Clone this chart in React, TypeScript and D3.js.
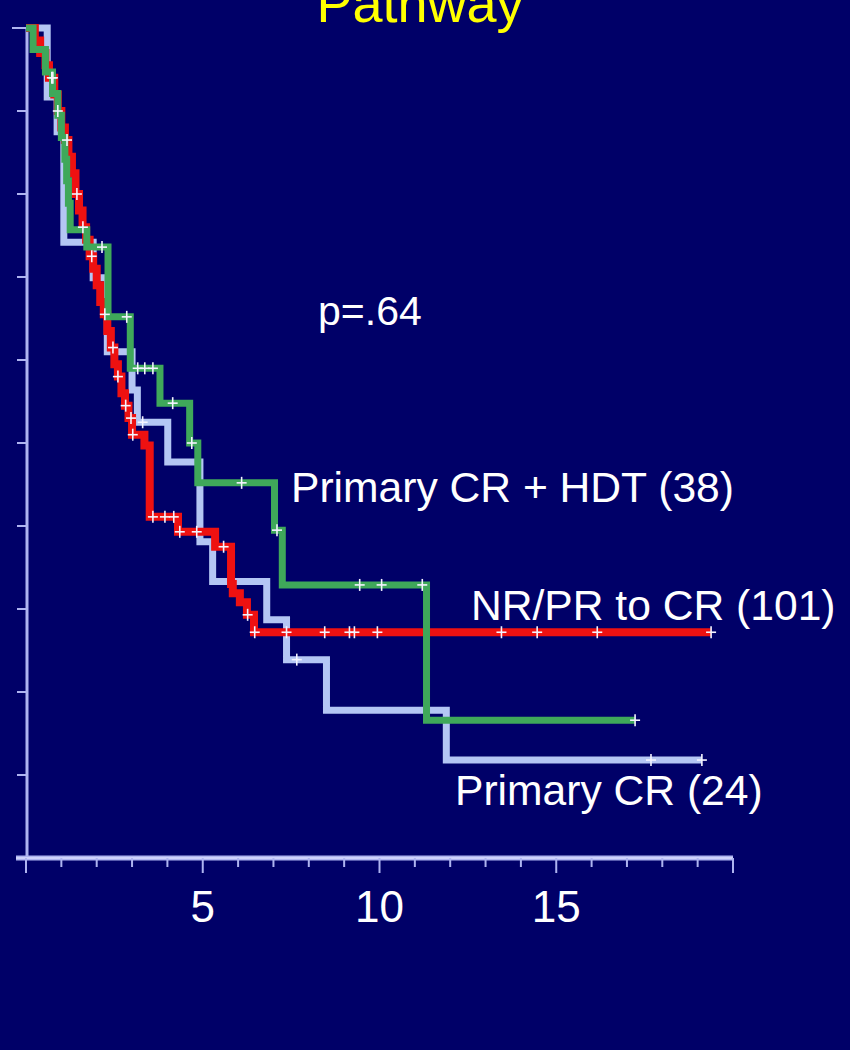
import React from "react";
import * as d3 from "d3";

const W = 850;
const H = 1050;

// Kaplan-Meier steps: [time, survival after drop]
const redEvents: [number, number][] = [
  [0.25, 0.985], [0.4, 0.97], [0.55, 0.955], [0.65, 0.94], [0.8, 0.92], [0.9, 0.9],
  [1.0, 0.88], [1.1, 0.865], [1.2, 0.845], [1.3, 0.825], [1.4, 0.8], [1.5, 0.78],
  [1.6, 0.76], [1.7, 0.745], [1.8, 0.725], [1.9, 0.71], [2.0, 0.69], [2.1, 0.67],
  [2.2, 0.655], [2.3, 0.635], [2.4, 0.615], [2.5, 0.595], [2.6, 0.58], [2.7, 0.56],
  [2.8, 0.545], [2.9, 0.53], [3.0, 0.51], [3.35, 0.497], [3.5, 0.411], [4.3, 0.393],
  [5.35, 0.375], [5.8, 0.33], [5.85, 0.319], [6.05, 0.308], [6.25, 0.293], [6.45, 0.272],
];
const redEnd = 19.38;
const redCensor = [
  0.73, 0.76, 0.9, 1.16, 1.44, 1.61, 1.86, 2.23, 2.46, 2.6, 2.82, 2.97, 3.02, 3.59, 3.93,
  4.18, 4.35, 4.83, 5.59, 6.27, 6.47, 7.37, 8.45, 9.15, 9.29, 9.94, 13.45, 14.46, 16.16, 19.38,
];

const greenEvents: [number, number][] = [
  [0.2, 0.974], [0.55, 0.947], [0.75, 0.921], [0.9, 0.895], [1.0, 0.868], [1.1, 0.842],
  [1.15, 0.816], [1.2, 0.789], [1.25, 0.757], [1.72, 0.736], [2.32, 0.652], [2.95, 0.59],
  [3.79, 0.548], [4.63, 0.5], [4.86, 0.452], [7.03, 0.395], [7.25, 0.329], [11.33, 0.166],
];
const greenEnd = 17.23;
const greenCensor = [2.15, 2.85, 3.16, 3.36, 3.59, 4.15, 4.69, 6.1, 7.1, 9.44, 10.06, 11.21, 17.23];

const blueEvents: [number, number][] = [
  [0.6, 0.917], [0.88, 0.875], [1.07, 0.742], [1.9, 0.699], [2.3, 0.61], [3.0, 0.564],
  [3.15, 0.525], [4.01, 0.477], [4.92, 0.381], [5.28, 0.333], [6.81, 0.287], [7.37, 0.239],
  [8.5, 0.178], [11.89, 0.118],
];
const blueEnd = 19.12;
const blueCensor = [3.3, 7.66, 17.68, 19.12];

const xTickLabels = [5, 10, 15];

const x = d3.scaleLinear().domain([0, 20]).range([26, 733]);
const y = d3.scaleLinear().domain([0, 1]).range([858, 28]);

function stepPoints(events: [number, number][], end: number): [number, number][] {
  const pts: [number, number][] = [[0, 1], ...events];
  pts.push([end, events[events.length - 1][1]]);
  return pts;
}
function survAt(events: [number, number][], t: number) {
  let s = 1;
  for (const [et, es] of events) if (et <= t + 1e-9) s = es;
  return s;
}

const line = d3
  .line<[number, number]>()
  .x((d) => x(d[0]))
  .y((d) => y(d[1]))
  .curve(d3.curveStepAfter);

const series = [
  { events: blueEvents, end: blueEnd, censor: blueCensor, color: "#b4c6f4", width: 7 },
  { events: redEvents, end: redEnd, censor: redCensor, color: "#ee1111", width: 8 },
  { events: greenEvents, end: greenEnd, censor: greenCensor, color: "#3fa85a", width: 7 },
];

const font = "Arial, 'Liberation Sans', sans-serif";
const axisColor = "#aeb4f0";

export default function App() {
  const minor = d3.range(0, 21, 1);
  const yTicks = d3.range(0, 1.0001, 0.1);
  return (
    <svg
      width={W}
      height={H}
      style={{ position: "absolute", left: 0, top: 0, display: "block" }}
    >
      <rect x={0} y={0} width={W} height={H} fill="#000068" />
      <text x={420} y={22} fill="#ffff00" fontSize={54} textAnchor="middle" fontFamily={font}>
        Pathway
      </text>

      {/* y axis */}
      <line x1={27} x2={27} y1={y(1)} y2={y(0)} stroke={axisColor} strokeWidth={3} />
      {yTicks.map((v, i) => (
        <line key={i} x1={i === 10 ? 12 : 17} x2={27} y1={y(v)} y2={y(v)} stroke={axisColor} strokeWidth={2} />
      ))}

      {/* x axis */}
      <line x1={16} x2={733} y1={858} y2={858} stroke={axisColor} strokeWidth={5} />
      <line x1={16} x2={733} y1={858} y2={858} stroke="#d8dcff" strokeWidth={1.5} />
      {minor.map((v) => (
        <line
          key={v}
          x1={x(v)}
          x2={x(v)}
          y1={858}
          y2={v % 5 === 0 ? 873 : 867}
          stroke={axisColor}
          strokeWidth={2}
        />
      ))}
      {xTickLabels.map((v) => (
        <text key={v} x={x(v)} y={922} fill="#ffffff" fontSize={44} textAnchor="middle" fontFamily={font}>
          {v}
        </text>
      ))}

      {/* curves */}
      {series.map((s, i) => (
        <path
          key={i}
          d={line(stepPoints(s.events, s.end)) || ""}
          fill="none"
          stroke={s.color}
          strokeWidth={s.width}
          strokeLinejoin="miter"
        />
      ))}
      {series.map((s, i) => (
        <g key={"c" + i}>
          {s.censor.map((t, j) => {
            const cx = x(t);
            const cy = y(survAt(s.events, t));
            return (
              <g key={j} stroke="#f4f4ff" strokeWidth={1.6}>
                <line x1={cx - 5} x2={cx + 5} y1={cy} y2={cy} />
                <line x1={cx} x2={cx} y1={cy - 6} y2={cy + 6} />
              </g>
            );
          })}
        </g>
      ))}

      <text x={318} y={325} fill="#ffffff" fontSize={41} fontFamily={font}>
        p=.64
      </text>
      <text x={291} y={502} fill="#ffffff" fontSize={42.6} fontFamily={font}>
        Primary CR + HDT (38)
      </text>
      <text x={471} y={620} fill="#ffffff" fontSize={42.6} fontFamily={font}>
        NR/PR to CR (101)
      </text>
      <text x={455} y={805} fill="#ffffff" fontSize={42.6} fontFamily={font}>
        Primary CR (24)
      </text>
    </svg>
  );
}
